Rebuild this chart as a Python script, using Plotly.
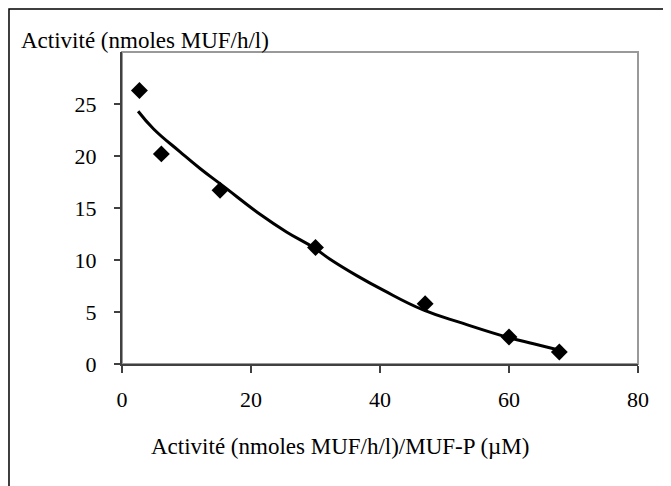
import plotly.graph_objects as go

# Measured points
pts_x = [2.7, 6.1, 15.2, 30.0, 47.0, 60.0, 67.8]
pts_y = [26.3, 20.2, 16.7, 11.2, 5.8, 2.6, 1.15]

# Trend curve
curve_x = [2.5, 4.9, 9.0, 12.1, 15.7, 21.4, 25.5, 29.7, 32.2, 36.4, 40.5, 46.7, 52.9, 59.9, 63.8, 67.7]
curve_y = [24.3, 22.6, 20.4, 18.8, 17.1, 14.4, 12.7, 11.2, 10.1, 8.5, 7.1, 5.2, 3.9, 2.55, 1.95, 1.35]

x_ticks = [0, 20, 40, 60, 80]
y_ticks = [0, 5, 10, 15, 20, 25]

FONT = "Liberation Serif, Times New Roman, serif"

fig = go.Figure()
fig.add_trace(go.Scatter(x=curve_x, y=curve_y, mode="lines",
                         line=dict(color="black", width=3, shape="spline", smoothing=1.3),
                         showlegend=False, hoverinfo="skip"))
fig.add_trace(go.Scatter(x=pts_x, y=pts_y, mode="markers",
                         marker=dict(symbol="diamond", size=13, color="black"),
                         showlegend=False))

fig.update_layout(
    width=663, height=478,
    margin=dict(l=114, r=33, t=44, b=122),
    paper_bgcolor="white", plot_bgcolor="white",
    font=dict(family=FONT, size=22, color="black"),
    xaxis=dict(range=[0, 80], tickvals=x_ticks, ticks="outside", ticklen=7,
               tickcolor="#404040", tickwidth=1.5,
               showline=True, linecolor="#404040", linewidth=2,
               showgrid=False, zeroline=False, ticklabelstandoff=8,
               tickfont=dict(size=22)),
    yaxis=dict(range=[0, 30], tickvals=y_ticks, ticks="outside", ticklen=6,
               tickcolor="#404040", tickwidth=1.5,
               showline=True, linecolor="#404040", linewidth=2,
               showgrid=False, zeroline=False, ticklabelstandoff=13,
               tickfont=dict(size=22)),
    shapes=[
        dict(type="rect", xref="paper", yref="paper", x0=0, y0=0, x1=1, y1=1,
             line=dict(color="#999999", width=2), layer="below"),
        dict(type="rect", xref="paper", yref="paper", x0=-0.219, y0=-0.5, x1=1.2, y1=1.1378,
             line=dict(color="black", width=1.5), layer="below"),
    ],
    annotations=[
        dict(text="Activité (nmoles MUF/h/l)", xref="paper", yref="paper",
             x=-0.2, y=1.038, xanchor="left", yanchor="middle", showarrow=False,
             font=dict(size=23)),
        dict(text="Activité (nmoles MUF/h/l)/MUF-P (µM)", xref="paper", yref="paper",
             x=0.422, y=-0.263, xanchor="center", yanchor="middle", showarrow=False,
             font=dict(size=23)),
    ],
)

fig.write_html("out.html")
